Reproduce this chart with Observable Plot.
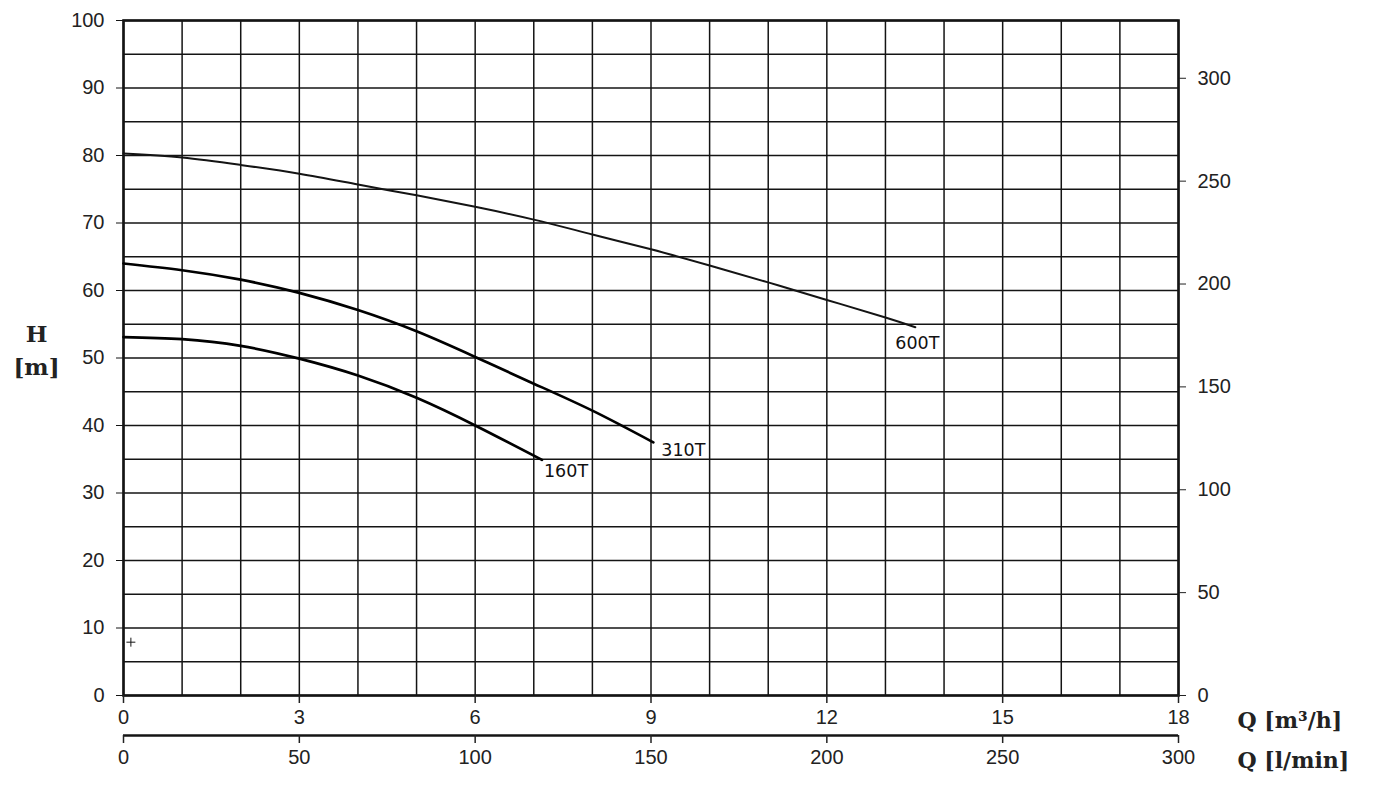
<!DOCTYPE html>
<html><head><meta charset="utf-8">
<script src="https://cdn.jsdelivr.net/npm/d3@7"></script>
<script src="https://cdn.jsdelivr.net/npm/@observablehq/plot@0.6"></script>
<style>body{margin:0;background:#fff;} #chart svg{display:block;}</style>
</head><body><div id="chart"></div>
<script>
// Curve data: Q [m3/h] and H [m]
const q160 = [0, 1, 2, 3, 4, 5, 6, 7.14];
const h160 = [53.1, 52.8, 51.8, 49.9, 47.4, 44.1, 40.0, 34.9];
const q310 = [0, 1, 2, 3, 4, 5, 6, 7, 8, 9.04];
const h310 = [64.0, 63.0, 61.6, 59.65, 57.1, 53.95, 50.15, 46.2, 42.2, 37.5];
const q600 = [0, 1, 2, 3, 4, 5, 6, 7, 8, 9, 10, 11, 12, 13, 13.51];
const h600 = [80.3, 79.7, 78.6, 77.3, 75.7, 74.1, 72.4, 70.5, 68.3, 66.1, 63.7, 61.2, 58.6, 56.0, 54.55];
const seriesNames = ["160T", "310T", "600T"];

// Axis ticks
const qTicks = [0, 3, 6, 9, 12, 15, 18];           // m3/h
const lminTicks = [0, 50, 100, 150, 200, 250, 300]; // l/min
const hTicks = [0, 10, 20, 30, 40, 50, 60, 70, 80, 90, 100]; // m
const ftTicks = [0, 50, 100, 150, 200, 250, 300];   // ft
const qGrid = d3.range(0, 19, 1);
const hGrid = d3.range(0, 101, 5);
const markerPoint = [[0.126, 7.9]];
const axisTitles = ["Q [m³/h]", "Q [l/min]"];

const M3H_PER_LMIN = 0.06;
const M_PER_FT = 0.3048;

const table = (qs, hs, name) => qs.map((q, i) => ({q, h: hs[i], name}));
const c160 = table(q160, h160, seriesNames[0]);
const c310 = table(q310, h310, seriesNames[1]);
const c600 = table(q600, h600, seriesNames[2]);

const ink = "#141414";
const labelFont = {fontFamily: "DejaVu Sans, Verdana, sans-serif", fontSize: 17.5, fill: "#111", textAnchor: "start", lineAnchor: "bottom"};
const titleFont = {fontFamily: "DejaVu Serif, serif", fontWeight: "bold", fontSize: 22, fill: "#222"};

const chart = Plot.plot({
  width: 1374, height: 810,
  marginLeft: 123, marginRight: 196, marginTop: 20, marginBottom: 115,
  style: {fontFamily: "Liberation Sans, Arial, sans-serif", fontSize: "20px", color: "#222", background: "#fff"},
  x: {domain: [0, 18]},
  y: {domain: [0, 100]},
  marks: [
    Plot.gridX(qGrid, {stroke: ink, strokeOpacity: 1, strokeWidth: 1.5}),
    Plot.gridY(hGrid, {stroke: ink, strokeOpacity: 1, strokeWidth: 1.5}),
    Plot.frame({stroke: ink, strokeWidth: 2.6}),
    Plot.axisY(hTicks, {anchor: "left", tickSize: 7, tickPadding: 12, label: null, fontSize: 20, stroke: ink}),
    Plot.axisY(ftTicks.map(f => f * M_PER_FT), {anchor: "right", tickSize: 7, tickPadding: 12, label: null, fontSize: 20, tickFormat: d => Math.round(d / M_PER_FT)}),
    Plot.axisX(qTicks, {anchor: "bottom", tickSize: 8, tickPadding: 6, label: null, fontSize: 20, strokeWidth: 1.5}),
    Plot.ruleY([0], {dy: 40, stroke: ink, strokeWidth: 2.6}),
    Plot.axisX(lminTicks.map(v => v * M3H_PER_LMIN), {anchor: "bottom", dy: 40, tickSize: 8, tickPadding: 6, label: null, fontSize: 20, strokeWidth: 1.5, tickFormat: d => Math.round(d / M3H_PER_LMIN)}),
    Plot.line(c600, {x: "q", y: "h", stroke: ink, strokeWidth: 2, curve: "natural"}),
    Plot.line(c310, {x: "q", y: "h", stroke: "#000", strokeWidth: 2.7, curve: "natural"}),
    Plot.line(c160, {x: "q", y: "h", stroke: "#000", strokeWidth: 2.7, curve: "natural"}),
    Plot.text([c600[c600.length - 1]], {x: "q", y: "h", text: "name", dx: -20, dy: 22, ...labelFont}),
    Plot.text([c310[c310.length - 1]], {x: "q", y: "h", text: "name", dx: 8, dy: 14, ...labelFont}),
    Plot.text([c160[c160.length - 1]], {x: "q", y: "h", text: "name", dx: 2, dy: 17, ...labelFont}),
    Plot.dot(markerPoint, {x: d => d[0], y: d => d[1], symbol: "plus", r: 3, stroke: ink, strokeWidth: 1}),
    Plot.text([axisTitles[0]], {x: 18, y: 0, text: d => d, dx: 59, dy: 25, textAnchor: "start", ...titleFont}),
    Plot.text([axisTitles[1]], {x: 18, y: 0, text: d => d, dx: 59, dy: 65, textAnchor: "start", ...titleFont}),
    Plot.text(["H\n[m]"], {frameAnchor: "left", text: d => d, dx: -87, dy: -10, lineHeight: 1.45, textAnchor: "middle", ...titleFont, fontSize: 23})
  ]
});
document.getElementById("chart").appendChild(chart);
</script>
</body></html>
